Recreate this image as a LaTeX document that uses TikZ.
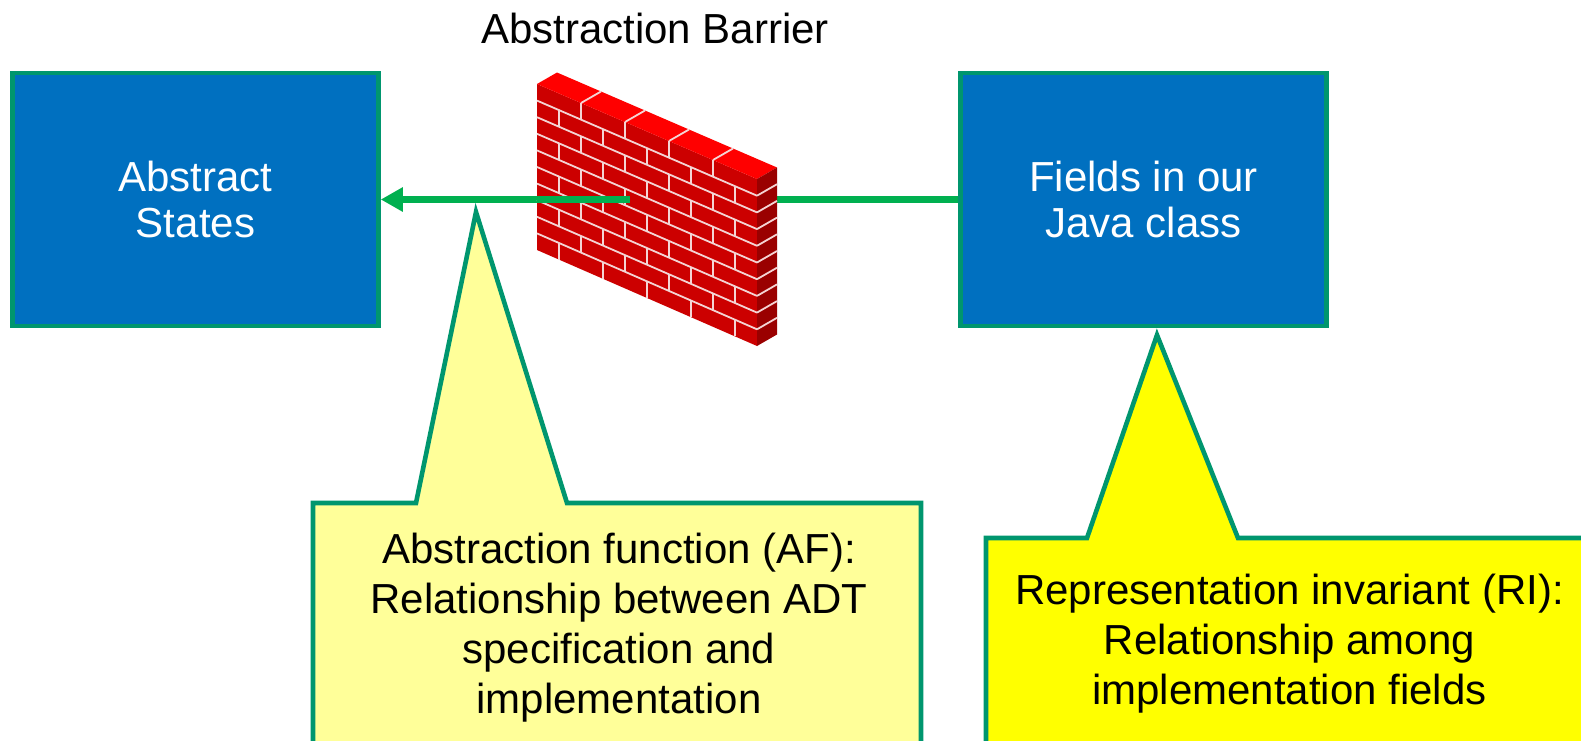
\documentclass[tikz,border=0pt]{standalone}
\usepackage{fontspec}
\setmainfont{Liberation Sans}
\usetikzlibrary{arrows.meta}
\definecolor{boxblue}{HTML}{0070C0}
\definecolor{edgeteal}{HTML}{00966E}
\definecolor{arrowgreen}{HTML}{00B050}
\definecolor{paleyellow}{HTML}{FFFF99}
\definecolor{brightyellow}{HTML}{FFFF00}
\definecolor{brickfront}{HTML}{CC0000}
\definecolor{bricktop}{HTML}{FF0000}
\definecolor{brickside}{HTML}{9A0000}
\definecolor{mortarcol}{HTML}{F4D4D4}
\tikzset{
  bluebox/.style={draw=edgeteal, line width=2.25pt, fill=boxblue, text=white,
    minimum width=183pt, minimum height=126.5pt, align=center, inner sep=0pt,
    font=\fontsize{21}{23}\selectfont},
  arrowline/.style={draw=arrowgreen, line width=3.5pt, -{Triangle[length=11pt,width=11.5pt]}},
  callout/.style={draw=edgeteal, line width=2.3pt, line join=miter},
  callouttext/.style={align=center, inner sep=0pt, font=\fontsize{21}{25}\selectfont},
  titletext/.style={inner sep=0pt, font=\fontsize{21}{25}\selectfont},
  mortar/.style={draw=mortarcol, line width=0.9pt},
}
\begin{document}
\begin{tikzpicture}[x=0.5pt,y=-0.5pt]
\useasboundingbox (0,0) rectangle (1581,740);
\clip (0,0) rectangle (1581,740);

% title
\node[titletext, anchor=base] (title) at (655,43) {Abstraction Barrier};

% boxes
\node[bluebox] (abs) at (195.5,199.5) {Abstract\\States};
\node[bluebox] (fields) at (1143.5,199.5) {Fields in our\\Java class};

% connector
\draw[arrowline] (fields.west) -- (abs.east);

% brick wall
\fill[brickfront] (537,84) -- (757,179) -- (757,346) -- (537,250) -- cycle;
\fill[bricktop] (537,84) -- (557,72.5) -- (777,167.5) -- (757,179) -- cycle;
\fill[brickside] (757,179) -- (777,167.5) -- (777,334.5) -- (757,346) -- cycle;
\foreach \k in {1,...,9}{
  \draw[mortar] (537,{84+\k*16.6}) -- (757,{179+\k*16.7});
  \draw[mortar] (757,{179+\k*16.7}) -- ++(20,-11.5);
}
\foreach \r in {0,2,4,6,8}{
  \foreach \x in {581,625,669,713}{
    \draw[mortar] (\x,{84+\r*16.65+0.4318*(\x-537)}) -- ++(0,16.65);
  }
}
\foreach \r in {1,3,5,7,9}{
  \foreach \x in {559,603,647,691,735}{
    \draw[mortar] (\x,{84+\r*16.65+0.4318*(\x-537)}) -- ++(0,16.65);
  }
}
\foreach \x in {581,625,669,713}{
  \draw[mortar] (\x,{84+0.4318*(\x-537)}) -- ++(20,-11.5);
}
% part of the arrow shown in front of the wall
\draw[draw=arrowgreen, line width=3.5pt] (537,199.5) -- (630,199.5);

% callouts
\coordinate (aftip) at (476,212);
\coordinate (ritip) at (1157,335);
\draw[callout, fill=paleyellow] (313,503) -- (416,503) -- (aftip) -- (567,503) -- (921,503) -- (921,780) -- (313,780) -- cycle;
\draw[callout, fill=brightyellow] (986,538) -- (1087,538) -- (ritip) -- (1238,538) -- (1620,538) -- (1620,780) -- (986,780) -- cycle;

\node[callouttext, anchor=north] (af) at (619,532.5) {Abstraction function (AF):\\Relationship between ADT\\specification and\\implementation};
\node[callouttext, anchor=north] (ri) at (1289.5,573.5) {Representation invariant (RI):\\Relationship among\\implementation fields};
\end{tikzpicture}
\end{document}
